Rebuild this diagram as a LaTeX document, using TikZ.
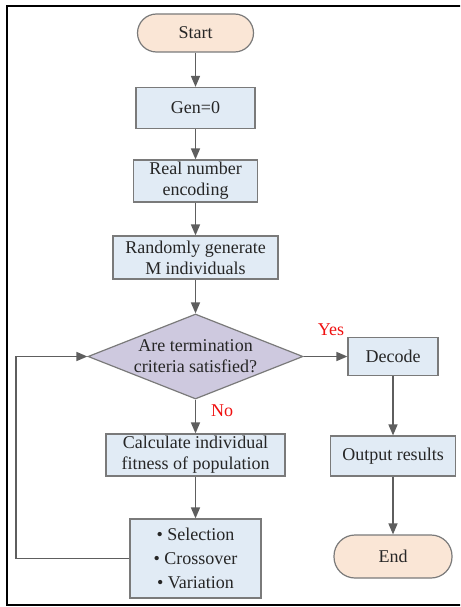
\documentclass[tikz,border=0pt]{standalone}
\usepackage{fontspec}
\setmainfont{Liberation Serif}
\newfontfamily\gafont{Liberation Serif}
\usetikzlibrary{arrows.meta, positioning, shapes.geometric}
\definecolor{gaboxfill}{HTML}{E1EBF5}
\definecolor{gatermfill}{HTML}{FAE6D6}
\definecolor{gadecfill}{HTML}{CEC9DF}
\definecolor{gaedge}{HTML}{7A7A7A}
\definecolor{gaarrow}{HTML}{5E5E5E}
\definecolor{gared}{HTML}{F01010}

\begin{document}
\begin{tikzpicture}[
  x=1pt, y=-1pt,
  every node/.style={font=\gafont\fontsize{18}{21}\selectfont, text=black!85},
  box/.style={rectangle, draw=gaedge, fill=gaboxfill, line width=1.2pt, align=center, inner sep=1pt},
  term/.style={rectangle, rounded corners=19pt, draw=gaedge, fill=gatermfill, line width=1.2pt, align=center},
  decision/.style={diamond, draw=gaedge, fill=gadecfill, line width=1.2pt, minimum width=215pt, minimum height=85pt, inner sep=0pt},
  arr/.style={-{Triangle[width=9pt, length=11pt]}, gaarrow, line width=1.5pt},
  lab/.style={text=gared},
]

% page and frame
\clip (0,0) rectangle (460,607);
\fill[white] (0,0) rectangle (460,607);
\draw[line width=2pt] (7,6) rectangle (470,605);

% main column
\node[term, minimum width=116pt, minimum height=38pt] (start) at (195.5,33) {Start};
\node[box, minimum width=119pt, minimum height=41pt] (gen) at (195.5,108) {Gen=0};
\node[box, minimum width=124pt, minimum height=42pt] (encode) at (195.5,181) {Real number\\encoding};
\node[box, minimum width=165pt, minimum height=43pt] (init) at (195.5,257.5) {Randomly generate\\M individuals};
\node[decision, label={[align=center]center:Are termination\\criteria satisfied?}] (check) at (195.5,356.5) {};
\node[box, minimum width=179pt, minimum height=42pt] (fitness) at (195.5,455) {Calculate individual\\fitness of population};
\node[box, minimum width=131pt, minimum height=79pt, font=\gafont\fontsize{18}{24}\selectfont] (ops) at (195.5,558.5) {\textbullet\ Selection\\\textbullet\ Crossover\\\textbullet\ Variation};

% right column
\node[box, minimum width=90pt, minimum height=38pt] (decode) at (393,356.5) {Decode};
\node[box, minimum width=125pt, minimum height=40pt] (output) at (393,456) {Output results};
\node[term, minimum width=118pt, minimum height=43pt, rounded corners=21pt] (stop) at (393,556.5) {End};

% labels
\node[lab] (yes) at (331,330) {Yes};
\node[lab] (no) at (222,411) {No};

% arrows
\draw[arr] (start) -- (gen);
\draw[arr] (gen) -- (encode);
\draw[arr] (encode) -- (init);
\draw[arr] (init) -- (check);
\draw[arr] (check) -- (fitness);
\draw[arr] (fitness) -- (ops);
\draw[arr] (check) -- (decode);
\draw[arr] (decode) -- (output);
\draw[arr] (output) -- (stop);

% loop back
\coordinate (back) at (16,558.5);
\draw[arr] (ops.west) -- (back) |- (check.west);

\end{tikzpicture}
\end{document}
